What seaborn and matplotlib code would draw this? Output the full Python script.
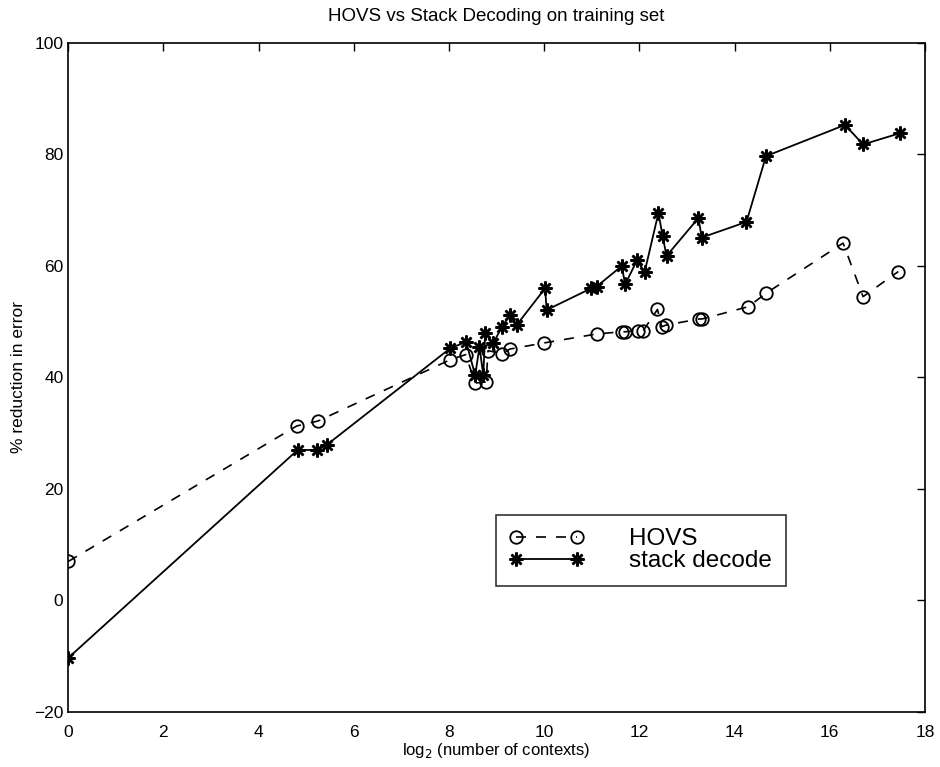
import matplotlib
matplotlib.use("Agg")
import matplotlib.pyplot as plt
import seaborn as sns
import pandas as pd
import numpy as np

# HOVS (circles, dashed)
hovs_x = [0.0, 4.80, 5.25, 8.03, 8.35, 8.55, 8.78, 8.82, 9.12, 9.28, 10.0,
          11.1, 11.63, 11.70, 11.98, 12.08, 12.38, 12.47, 12.56, 13.26, 13.32,
          14.29, 14.66, 16.28, 16.70, 17.44]
hovs_y = [7.0, 31.3, 32.2, 43.2, 44.1, 39.0, 39.2, 44.8, 44.3, 45.1, 46.2,
          47.8, 48.2, 48.2, 48.4, 48.4, 52.2, 49.1, 49.4, 50.5, 50.5,
          52.7, 55.1, 64.1, 54.5, 59.0]

# stack decode (asterisks, solid)
stack_x = [0.0, 4.82, 5.22, 5.43, 8.02, 8.36, 8.55, 8.64, 8.72, 8.76, 8.93,
           9.11, 9.28, 9.42, 10.02, 10.05, 10.99, 11.10, 11.63, 11.70, 11.95,
           12.11, 12.40, 12.49, 12.57, 13.24, 13.31, 14.25, 14.66, 16.32,
           16.70, 17.47]
stack_y = [-10.3, 27.0, 27.0, 27.9, 45.2, 46.4, 40.4, 45.5, 40.4, 47.9, 46.1,
           49.1, 51.2, 49.4, 56.0, 52.1, 56.0, 56.3, 60.0, 56.7, 61.0,
           58.9, 69.5, 65.3, 61.8, 68.6, 65.1, 67.9, 79.7, 85.3,
           81.8, 83.8]

sns.set_style("white")
plt.rcParams['font.family'] = ['Liberation Sans', 'DejaVu Sans']
plt.rcParams['text.color'] = 'black'
plt.rcParams['axes.labelcolor'] = 'black'

fig = plt.figure(figsize=(9.4, 7.67), dpi=100)
ax = fig.add_axes([0.0726, 0.0717, 0.9114, 0.8723])

sns.lineplot(x=hovs_x, y=hovs_y, ax=ax, sort=False, estimator=None,
             color="black", lw=1.2, dashes=False, label="HOVS")
ax.lines[-1].set_linestyle((0, (6, 6)))
ax.lines[-1].set_marker("o")
ax.lines[-1].set_markersize(9)
ax.lines[-1].set_markerfacecolor("none")
ax.lines[-1].set_markeredgecolor("black")
ax.lines[-1].set_markeredgewidth(1.3)

sns.lineplot(x=stack_x, y=stack_y, ax=ax, sort=False, estimator=None,
             color="black", lw=1.3, label="stack decode")
ax.lines[-1].set_marker((8, 2, 0))
ax.lines[-1].set_markersize(10)
ax.lines[-1].set_markeredgecolor("black")
ax.lines[-1].set_markeredgewidth(1.8)

ax.set_xlim(0, 18)
ax.set_ylim(-20, 100)
ax.set_xticks(range(0, 19, 2))
ax.set_yticks(range(-20, 101, 20))
ax.tick_params(direction="in", length=6, width=1, labelsize=12.5,
               top=True, right=True, colors="black")
ax.tick_params(axis="x", pad=9)
for s in ax.spines.values():
    s.set_color("black")
    s.set_linewidth(1.2)

ax.set_title("HOVS vs Stack Decoding on training set", fontsize=13.5, pad=16)
ax.set_xlabel(r"log$_2$ (number of contexts)", fontsize=12, labelpad=1)
ax.set_ylabel("% reduction in error", fontsize=12.5, labelpad=6)

leg = ax.legend(loc="lower left", bbox_to_anchor=(0.499, 0.189),
                numpoints=2, handlelength=3.1, fontsize=17.5, frameon=True,
                fancybox=False, edgecolor="black", borderpad=0.55,
                handletextpad=1.85, labelspacing=0.0, borderaxespad=0)
leg.get_frame().set_linewidth(1.2)
for t in leg.get_texts():
    t.set_color("black")

fig.savefig("out.png", dpi=100, facecolor="white")
